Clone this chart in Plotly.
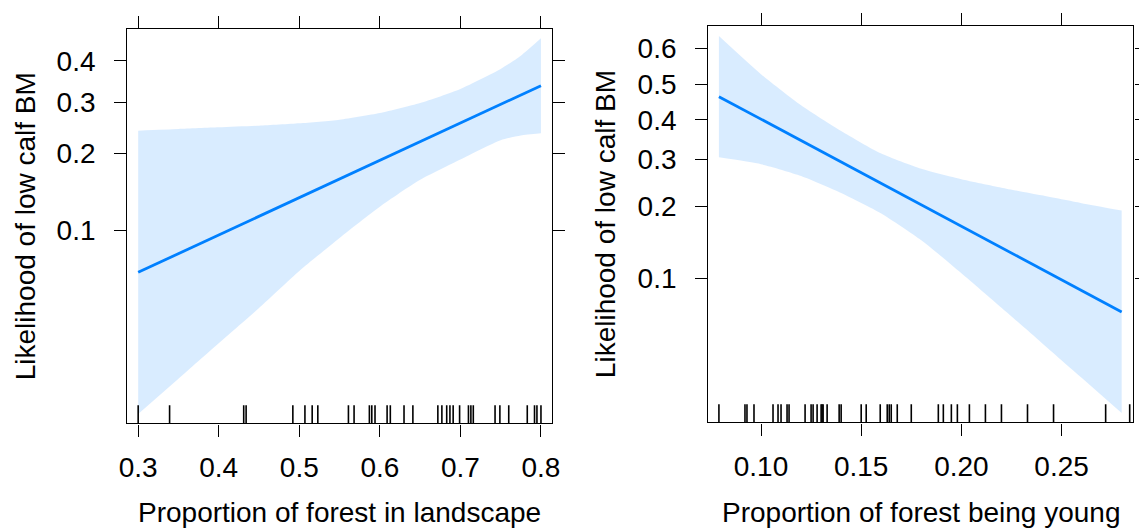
import numpy as np
import plotly.graph_objects as go

# ---------------- data ----------------
# Left panel: Proportion of forest in landscape
forest_x = [0.30, 0.35, 0.40, 0.45, 0.50, 0.55, 0.60, 0.65, 0.70, 0.75, 0.775, 0.80]
forest_fit = [0.0663, 0.0796, 0.0953, 0.1138, 0.1353, 0.1601, 0.1885, 0.2206, 0.2564, 0.2958, 0.3168, 0.3385]
forest_lo = [0.0156, 0.0225, 0.0324, 0.0464, 0.0672, 0.0927, 0.1245, 0.1590, 0.1900, 0.2234, 0.2319, 0.2362]
forest_hi = [0.2412, 0.2445, 0.2478, 0.2511, 0.2558, 0.2632, 0.2771, 0.2988, 0.3310, 0.3792, 0.4129, 0.4581]
forest_rug = [0.300, 0.339, 0.431, 0.434, 0.492, 0.507, 0.516, 0.523, 0.561, 0.568,
              0.587, 0.590, 0.594, 0.609, 0.613, 0.630, 0.641, 0.672, 0.677, 0.683,
              0.687, 0.691, 0.699, 0.710, 0.713, 0.716, 0.743, 0.749, 0.760, 0.783,
              0.792, 0.795, 0.800]

# Right panel: Proportion of forest being young
young_x = [0.079, 0.10, 0.12, 0.14, 0.16, 0.18, 0.20, 0.22, 0.24, 0.26, 0.28]
young_fit = [0.4646, 0.4022, 0.3456, 0.2930, 0.2454, 0.2033, 0.1669, 0.1358, 0.1098, 0.0883, 0.0706]
young_lo = [0.3040, 0.2879, 0.2614, 0.2259, 0.1880, 0.1460, 0.1053, 0.0738, 0.0509, 0.0348, 0.0236]
young_hi = [0.6329, 0.5282, 0.4406, 0.3705, 0.3130, 0.2772, 0.2542, 0.2366, 0.2212, 0.2064, 0.1930]
young_rug = [0.079, 0.092, 0.093, 0.0965, 0.106, 0.1085, 0.110, 0.113, 0.114, 0.122,
             0.125, 0.126, 0.128, 0.130, 0.1305, 0.131, 0.133, 0.139, 0.140, 0.150,
             0.1525, 0.1595, 0.163, 0.164, 0.165, 0.168, 0.175, 0.1885, 0.191, 0.195,
             0.198, 0.204, 0.212, 0.220, 0.233, 0.246, 0.272, 0.284]

# tick labels
left_xticks = [0.3, 0.4, 0.5, 0.6, 0.7, 0.8]
left_xlabels = ["0.3", "0.4", "0.5", "0.6", "0.7", "0.8"]
right_xticks = [0.10, 0.15, 0.20, 0.25]
right_xlabels = ["0.10", "0.15", "0.20", "0.25"]
left_yticks = [0.1, 0.2, 0.3, 0.4]
right_yticks = [0.1, 0.2, 0.3, 0.4, 0.5, 0.6]

y_title = "Likelihood of low calf BM"
left_xtitle = "Proportion of forest in landscape"
right_xtitle = "Proportion of forest being young"


def logit(p):
    p = np.asarray(p, dtype=float)
    return np.log(p / (1 - p))


W, H = 1139, 529
FONT = "Liberation Sans, Arial, sans-serif"
FS = 28
LINE_COL = "#0080FF"
BAND_COL = "rgba(0,128,255,0.15)"

panels = [
    dict(x=forest_x, fit=forest_fit, lo=forest_lo, hi=forest_hi, rug=forest_rug,
         xr=[0.2865, 0.8137], yr=[-4.243, -0.073],
         xdom=[127.3 / W, 552.0 / W], ydom=[(H - 423.3) / H, (H - 29.3) / H],
         xt=left_xticks, xl=left_xlabels, yt=left_yticks,
         xa="x", ya="y", xtitle=left_xtitle, ytitle_x=25, xcenter=339.6),
    dict(x=young_x, fit=young_fit, lo=young_lo, hi=young_hi, rug=young_rug,
         xr=[0.0737, 0.2858], yr=[-3.8267, 0.6578],
         xdom=[708.3 / W, 1133.3 / W], ydom=[(H - 422.3) / H, (H - 26.0) / H],
         xt=right_xticks, xl=right_xlabels, yt=right_yticks,
         xa="x2", ya="y2", xtitle=right_xtitle, ytitle_x=605, xcenter=920.8),
]

fig = go.Figure()
annotations = []
layout = {}

for i, p in enumerate(panels):
    # confidence band
    fig.add_trace(go.Scatter(x=p["x"], y=logit(p["lo"]), mode="lines",
                             line=dict(width=0, color=BAND_COL, shape="spline", smoothing=0.6),
                             hoverinfo="skip",
                             showlegend=False, xaxis=p["xa"], yaxis=p["ya"]))
    fig.add_trace(go.Scatter(x=p["x"], y=logit(p["hi"]), mode="lines",
                             line=dict(width=0, color=BAND_COL, shape="spline", smoothing=0.6),
                             fill="tonexty",
                             fillcolor=BAND_COL, hoverinfo="skip",
                             showlegend=False, xaxis=p["xa"], yaxis=p["ya"]))
    # fitted line
    fig.add_trace(go.Scatter(x=p["x"], y=logit(p["fit"]), mode="lines",
                             line=dict(width=2.8, color=LINE_COL),
                             showlegend=False, xaxis=p["xa"], yaxis=p["ya"]))
    # rug
    dom_px = (p["ydom"][1] - p["ydom"][0]) * H
    y0 = p["yr"][0]
    y1 = y0 + (p["yr"][1] - p["yr"][0]) * 18.0 / dom_px
    rx, ry = [], []
    for r in p["rug"]:
        rx += [r, r, None]
        ry += [y0, y1, None]
    fig.add_trace(go.Scatter(x=rx, y=ry, mode="lines",
                             line=dict(width=1.6, color="black"),
                             hoverinfo="skip", showlegend=False,
                             xaxis=p["xa"], yaxis=p["ya"]))

    common = dict(showline=True, linecolor="black", linewidth=1.4, mirror="ticks",
                  ticks="outside", ticklen=12, tickwidth=1.4, tickcolor="black",
                  showgrid=False, zeroline=False, automargin=False,
                  tickfont=dict(family=FONT, size=FS, color="black"))
    xkey = "xaxis" if i == 0 else "xaxis2"
    ykey = "yaxis" if i == 0 else "yaxis2"
    layout[xkey] = dict(domain=p["xdom"], range=p["xr"], anchor=p["ya"],
                        tickvals=p["xt"], ticktext=p["xl"], ticklabelstandoff=7,
                        **common)
    layout[ykey] = dict(domain=p["ydom"], range=p["yr"], anchor=p["xa"],
                        tickvals=list(logit(p["yt"])),
                        ticktext=[f"{v:.1f}" for v in p["yt"]],
                        ticklabelstandoff=13, **common)

    # axis titles as annotations
    annotations.append(dict(text=y_title, x=p["ytitle_x"] / W, y=(p["ydom"][0] + p["ydom"][1]) / 2,
                            xref="paper", yref="paper", textangle=-90,
                            xanchor="center", yanchor="middle", showarrow=False,
                            font=dict(family=FONT, size=FS, color="black")))
    annotations.append(dict(text=p["xtitle"], x=p["xcenter"] / W, y=(H - 512) / H,
                            xref="paper", yref="paper",
                            xanchor="center", yanchor="middle", showarrow=False,
                            font=dict(family=FONT, size=FS, color="black")))

fig.update_layout(width=W, height=H, margin=dict(l=0, r=0, t=0, b=0, autoexpand=False),
                  paper_bgcolor="white", plot_bgcolor="white",
                  showlegend=False, annotations=annotations, **layout)

fig.write_html("out.html", config={"displayModeBar": False},
               post_script="document.body.style.margin='0';document.body.style.overflow='hidden';")
